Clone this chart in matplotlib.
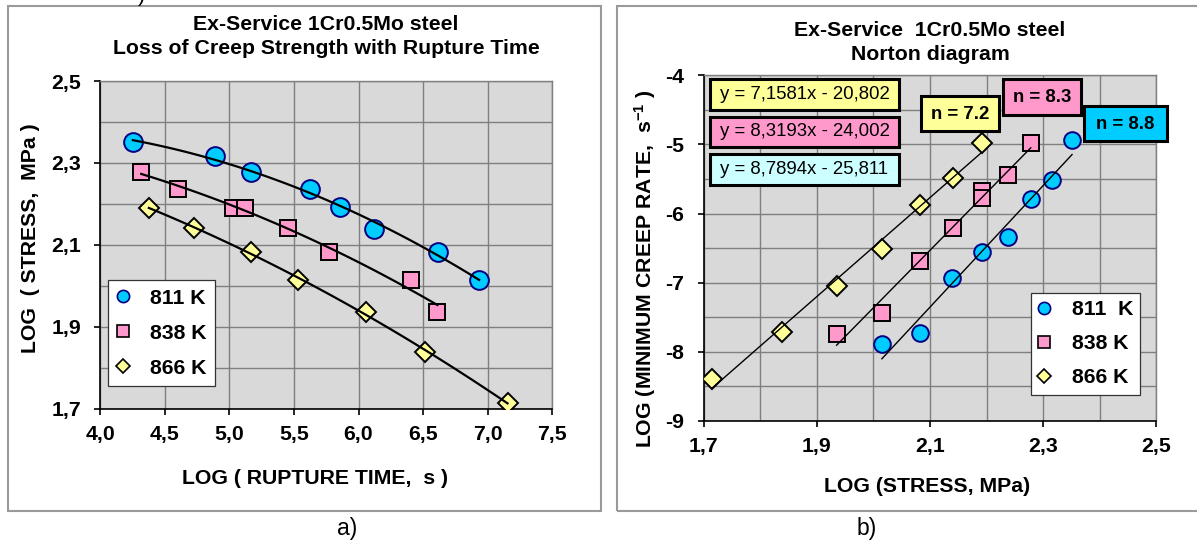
import numpy as np
import matplotlib
matplotlib.use('Agg')
import matplotlib.pyplot as plt
from matplotlib.patches import Rectangle
from matplotlib.ticker import MultipleLocator, FuncFormatter, FixedLocator
from matplotlib.lines import Line2D

plt.rcParams['font.family'] = ['Liberation Sans', 'DejaVu Sans']
plt.rcParams['font.weight'] = 'bold'
plt.rcParams['mathtext.fontset'] = 'custom'
plt.rcParams['mathtext.rm'] = 'Liberation Sans:bold'
plt.rcParams['mathtext.bf'] = 'Liberation Sans:bold'
plt.rcParams['mathtext.it'] = 'Liberation Sans:bold'

# ---------------- data ----------------
temps = ['811 K', '838 K', '866 K']
legend_labels_b = ['811  K', '838 K', '866 K']

log_stress_811 = [2.351, 2.316, 2.279, 2.237, 2.192, 2.139, 2.082, 2.015]
log_time_811 = [4.252, 4.886, 5.171, 5.621, 5.855, 6.116, 6.617, 6.934]
log_rate_811 = [-4.943, -5.512, -5.796, -6.335, -6.560, -6.934, -7.733, -7.892]

log_stress_838 = [2.278, 2.237, 2.191, 2.191, 2.140, 2.082, 2.015, 1.935]
log_time_838 = [4.317, 4.605, 5.031, 5.123, 5.452, 5.775, 6.410, 6.611]
log_rate_838 = [-4.983, -5.442, -5.672, -5.781, -6.216, -6.680, -7.443, -7.742]

log_stress_866 = [2.191, 2.140, 2.082, 2.015, 1.935, 1.838, 1.714]
log_time_866 = [4.376, 4.729, 5.165, 5.532, 6.060, 6.516, 7.154]
log_rate_866 = [-4.983, -5.482, -5.881, -6.515, -7.054, -7.708, -8.391]

norton_slopes = [8.7894, 8.3193, 7.1581]
norton_intercepts = [-25.811, -24.002, -20.802]
n_values = [8.8, 8.3, 7.2]

a_xticks = [4.0, 4.5, 5.0, 5.5, 6.0, 6.5, 7.0, 7.5]
a_yticks = [1.7, 1.9, 2.1, 2.3, 2.5]
b_xticks = [1.7, 1.9, 2.1, 2.3, 2.5]
b_yticks = [-9, -8, -7, -6, -5, -4]

stress_sets = [log_stress_811, log_stress_838, log_stress_866]
time_sets = [log_time_811, log_time_838, log_time_866]
rate_sets = [log_rate_811, log_rate_838, log_rate_866]

# ---------------- styles ----------------
face_cols = ['#00CCFF', '#FF99CC', '#FFFF99']
edge_cols = ['#000080', '#000000', '#000000']
markers = ['o', 's', 'D']
ms_a = [13.5, 11.0, 10.5]
ms_b = [12.0, 11.0, 9.8]
ms_leg = [8.8, 8.2, 7.2]
eq_box_cols = ['#CCFFFF', '#FF99CC', '#FFFF99']
n_box_cols = ['#00CCFF', '#FF99CC', '#FFFF99']
FS = 15.3
FS_BOX = 13.4
GRID = '#7f7f7f'

W, H = 1197, 541
fig = plt.figure(figsize=(W / 100, H / 100), dpi=100)


def fx(px):
    return px / W


def fy(py):
    return 1 - py / H


def frect(x0, y0, x1, y1):
    return [x0 / W, 1 - y1 / H, (x1 - x0) / W, (y1 - y0) / H]


def comma(v, p):
    return f"{v:.1f}".replace('.', ',')


def style_axes(ax):
    ax.set_facecolor('#D9D9D9')
    ax.set_axisbelow(True)
    ax.grid(True, which='both', color=GRID, lw=1.0)
    for s in ['left', 'bottom']:
        ax.spines[s].set_color('black')
        ax.spines[s].set_linewidth(1.2)
    for s in ['top', 'right']:
        ax.spines[s].set_color(GRID)
        ax.spines[s].set_linewidth(1.0)
    ax.tick_params(which='major', direction='out', length=4, width=1.2,
                   labelsize=FS, colors='black')
    ax.tick_params(which='minor', length=0)
    for lab in ax.get_xticklabels() + ax.get_yticklabels():
        lab.set_fontweight('bold')


# panel frames
fig.patches.append(Rectangle((fx(8), fy(511)), 593 / W, 505 / H, transform=fig.transFigure,
                             fill=False, ec='#9a9a9a', lw=1.5, zorder=0))
fig.patches.append(Rectangle((fx(617), fy(511)), 600 / W, 505 / H, transform=fig.transFigure,
                             fill=False, ec='#9a9a9a', lw=1.5, zorder=0))

# ---------------- panel a ----------------
axa = fig.add_axes(frect(100.3, 81.1, 552.2, 408.6))
axa.set_xlim(4.0, 7.5)
axa.set_ylim(1.7, 2.5)
axa.xaxis.set_major_locator(FixedLocator(a_xticks))
axa.yaxis.set_major_locator(FixedLocator(a_yticks))
axa.yaxis.set_minor_locator(MultipleLocator(0.1))
axa.xaxis.set_major_formatter(FuncFormatter(comma))
axa.yaxis.set_major_formatter(FuncFormatter(comma))
style_axes(axa)
axa.tick_params(axis='y', pad=9.6)
axa.tick_params(axis='x', pad=7.5)

for i in range(3):
    t = np.array(time_sets[i])
    s = np.array(stress_sets[i])
    axa.plot(t, s, ls='none', marker=markers[i], ms=ms_a[i], mfc=face_cols[i],
             mec=edge_cols[i], mew=1.4, zorder=3)
    coef = np.polyfit(t, s, 2)
    tt = np.linspace(t.min(), t.max(), 100)
    axa.plot(tt, np.polyval(coef, tt), color='black', lw=1.6, zorder=4)

handles_a = [Line2D([], [], ls='none', marker=markers[i], ms=ms_leg[i],
                    mfc=face_cols[i], mec=edge_cols[i], mew=1.2) for i in range(3)]
leg = axa.legend(handles_a, temps, loc='upper left',
                 bbox_to_anchor=(fx(108.3), fy(280.2)), bbox_transform=fig.transFigure,
                 frameon=True, fancybox=False, framealpha=1, edgecolor='#333333',
                 prop={'size': FS, 'weight': 'bold'}, borderpad=0.4,
                 labelspacing=0.75, handletextpad=1.03, handlelength=0.54, borderaxespad=0)
leg.get_frame().set_linewidth(0.9)

fig.text(fx(326), fy(24), 'Ex-Service 1Cr0.5Mo steel', ha='center', va='center',
         fontsize=FS, fontweight='bold')
fig.text(fx(326), fy(48), 'Loss of Creep Strength with Rupture Time', ha='center',
         va='center', fontsize=FS, fontweight='bold')
fig.text(fx(315), fy(478), 'LOG ( RUPTURE TIME,  s )', ha='center', va='center',
         fontsize=FS, fontweight='bold')
fig.text(fx(30.6), fy(238), 'LOG  ( STRESS,  MPa )', ha='center', va='center',
         rotation=90, fontsize=FS, fontweight='bold')

# ---------------- panel b ----------------
axb = fig.add_axes(frect(703.6, 75.2, 1156.4, 421.0))
axb.set_xlim(1.7, 2.5)
axb.set_ylim(-9, -4)
axb.xaxis.set_major_locator(FixedLocator(b_xticks))
axb.xaxis.set_minor_locator(MultipleLocator(0.1))
axb.yaxis.set_major_locator(FixedLocator(b_yticks))
axb.yaxis.set_minor_locator(MultipleLocator(0.5))
axb.xaxis.set_major_formatter(FuncFormatter(comma))
axb.yaxis.set_major_formatter(FuncFormatter(lambda v, p: f"{v:.0f}"))
style_axes(axb)
axb.tick_params(axis='y', pad=10)
axb.tick_params(axis='x', pad=7.5)

for i in range(3):
    s = np.array(stress_sets[i])
    r = np.array(rate_sets[i])
    axb.plot(s, r, ls='none', marker=markers[i], ms=ms_b[i], mfc=face_cols[i],
             mec=edge_cols[i], mew=1.4, zorder=3)
    ss = np.array([s.min(), s.max()])
    axb.plot(ss, norton_slopes[i] * ss + norton_intercepts[i], color='black', lw=1.0, zorder=4)

handles_b = [Line2D([], [], ls='none', marker=markers[i], ms=ms_leg[i],
                    mfc=face_cols[i], mec=edge_cols[i], mew=1.2) for i in range(3)]
legb = axb.legend(handles_b, legend_labels_b, loc='upper left',
                  bbox_to_anchor=(fx(1031), fy(293)), bbox_transform=fig.transFigure,
                  frameon=True, fancybox=False, framealpha=1, edgecolor='#333333',
                  prop={'size': FS, 'weight': 'bold'}, borderpad=0.35,
                  labelspacing=0.7, handletextpad=1.03, handlelength=0.53, borderaxespad=0)
legb.get_frame().set_linewidth(0.9)

fig.text(fx(930), fy(31), 'Ex-Service  1Cr0.5Mo steel', ha='center', va='center',
         fontsize=FS, fontweight='bold')
fig.text(fx(930), fy(55), 'Norton diagram', ha='center', va='center',
         fontsize=FS, fontweight='bold')
fig.text(fx(927), fy(486.5), 'LOG (STRESS, MPa)', ha='center', va='center',
         fontsize=FS, fontweight='bold')
fig.text(fx(645), fy(269), 'LOG (MINIMUM CREEP RATE,  s$^{-1}$ )', ha='center', va='center',
         rotation=90, fontsize=FS, fontweight='bold')

# equation boxes (top-left of panel b): order cyan(811), pink(838), yellow(866)
eq_boxes = [(710, 154, 899, 185), (710, 117, 899, 147), (710, 79, 899, 110)]
for i in range(3):
    x0, y0, x1, y1 = eq_boxes[i]
    fig.patches.append(Rectangle((fx(x0), fy(y1)), (x1 - x0) / W, (y1 - y0) / H,
                                 transform=fig.transFigure, fc=eq_box_cols[i], ec='black',
                                 lw=2.2, zorder=5))
    a = f"{norton_slopes[i]:.4f}".replace('.', ',')
    b = f"{-norton_intercepts[i]:.3f}".replace('.', ',')
    fig.text(fx((x0 + x1) / 2), fy((y0 + y1) / 2), f"y = {a}x - {b}", ha='center',
             va='center', fontsize=FS_BOX, fontweight='normal', zorder=6)

n_boxes = [(1084, 106, 1167, 141), (1003, 79, 1081, 115), (920.6, 96, 999, 131)]
for i in range(3):
    x0, y0, x1, y1 = n_boxes[i]
    fig.patches.append(Rectangle((fx(x0), fy(y1)), (x1 - x0) / W, (y1 - y0) / H,
                                 transform=fig.transFigure, fc=n_box_cols[i], ec='black',
                                 lw=2.2, zorder=5))
    fig.text(fx((x0 + x1) / 2), fy((y0 + y1) / 2 + 1), f"n = {n_values[i]}", ha='center',
             va='center', fontsize=FS_BOX, fontweight='bold', zorder=6)

# sub-figure captions
fig.text(fx(347), fy(529), 'a)', ha='center', va='center', fontsize=16.5, fontweight='normal')
fig.text(fx(867), fy(529), 'b)', ha='center', va='center', fontsize=16.5, fontweight='normal')
fig.text(fx(142), fy(0.5), ')', ha='center', va='baseline', fontsize=16, fontweight='normal')

fig.savefig('out.png', dpi=100)
